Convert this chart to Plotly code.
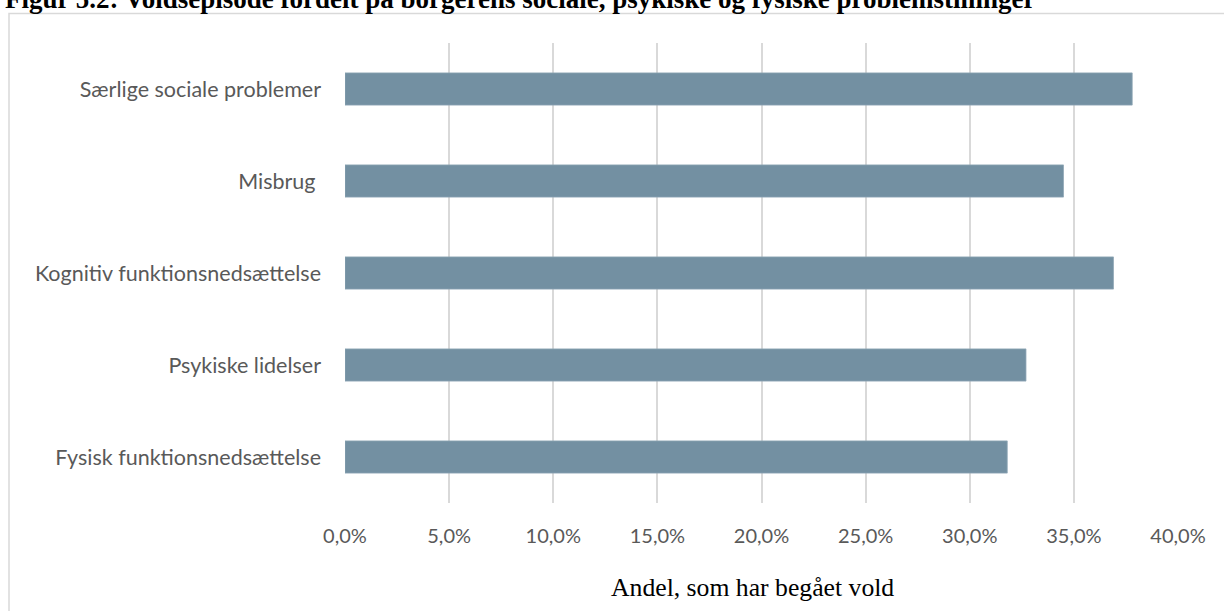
import plotly.graph_objects as go

# Andel borgere, som har begået vold, fordelt på problemstilling
categories = [
    "Fysisk funktionsnedsættelse",
    "Psykiske lidelser",
    "Kognitiv funktionsnedsættelse",
    "Misbrug\u00a0",
    "Særlige sociale problemer",
]
shares = [0.318, 0.327, 0.369, 0.345, 0.378]

title_text = "Figur 5.2: Voldsepisode fordelt på borgerens sociale, psykiske og fysiske problemstillinger"
x_title = "Andel, som har begået vold"
tick_vals = [0, 0.05, 0.10, 0.15, 0.20, 0.25, 0.30, 0.35, 0.40]

W, H = 1224, 611
M_L, M_R, M_T, M_B = 345, 46, 43, 108
plot_h = H - M_T - M_B
plot_w = W - M_L - M_R

fig = go.Figure(
    go.Bar(
        x=shares,
        y=categories,
        orientation="h",
        marker=dict(color="#7390a2", line=dict(color="#8ea6b5", width=0.8)),
        width=0.35,
        hoverinfo="skip",
    )
)

fig.update_layout(
    width=W,
    height=H,
    margin=dict(l=M_L, r=M_R, t=M_T, b=M_B, pad=0),
    paper_bgcolor="white",
    plot_bgcolor="white",
    separators=",.",
    showlegend=False,
    font=dict(family="Lato, Open Sans, sans-serif", color="#595959", size=20),
)

fig.update_xaxes(
    range=[0, 0.40],
    tickvals=tick_vals,
    tickformat=".1%",
    showgrid=True,
    gridcolor="#d9d9d9",
    gridwidth=2,
    zeroline=False,
    showline=False,
    ticks="",
    ticklabelstandoff=19,
    tickfont=dict(size=20, color="#595959"),
    fixedrange=True,
)

fig.update_yaxes(
    categoryorder="array",
    categoryarray=categories,
    range=[-0.5, len(categories) - 0.5],
    showgrid=False,
    zeroline=False,
    showline=False,
    ticks="",
    ticklabelstandoff=23,
    tickfont=dict(size=21.5, color="#595959"),
    fixedrange=True,
)

# Outer chart frame (light grey border starting left/top)
fig.add_shape(
    type="rect",
    xref="paper", yref="paper",
    x0=(9 - M_L) / plot_w, x1=(W + 20 - M_L) / plot_w,
    y0=-(H + 20 - M_T - plot_h) / plot_h, y1=1 + (M_T - 13.5) / plot_h,
    line=dict(color="#d9d9d9", width=1.5),
    fillcolor="rgba(0,0,0,0)",
    layer="below",
)

# Figure title at the very top
fig.add_annotation(
    text=f"<b>{title_text}</b>",
    xref="paper", yref="paper",
    x=(3 - M_L) / plot_w, xanchor="left",
    y=1 + (M_T + 1) / plot_h, yanchor="middle",
    showarrow=False,
    font=dict(family="Liberation Serif, serif", size=27, color="black"),
)

# X axis title
fig.add_annotation(
    text=x_title,
    xref="paper", yref="paper",
    x=(752 - M_L) / plot_w, xanchor="center",
    y=-(587 - M_T - plot_h) / plot_h, yanchor="middle",
    showarrow=False,
    font=dict(family="Liberation Serif, serif", size=25.7, color="black"),
)

fig.write_html("out.html")
